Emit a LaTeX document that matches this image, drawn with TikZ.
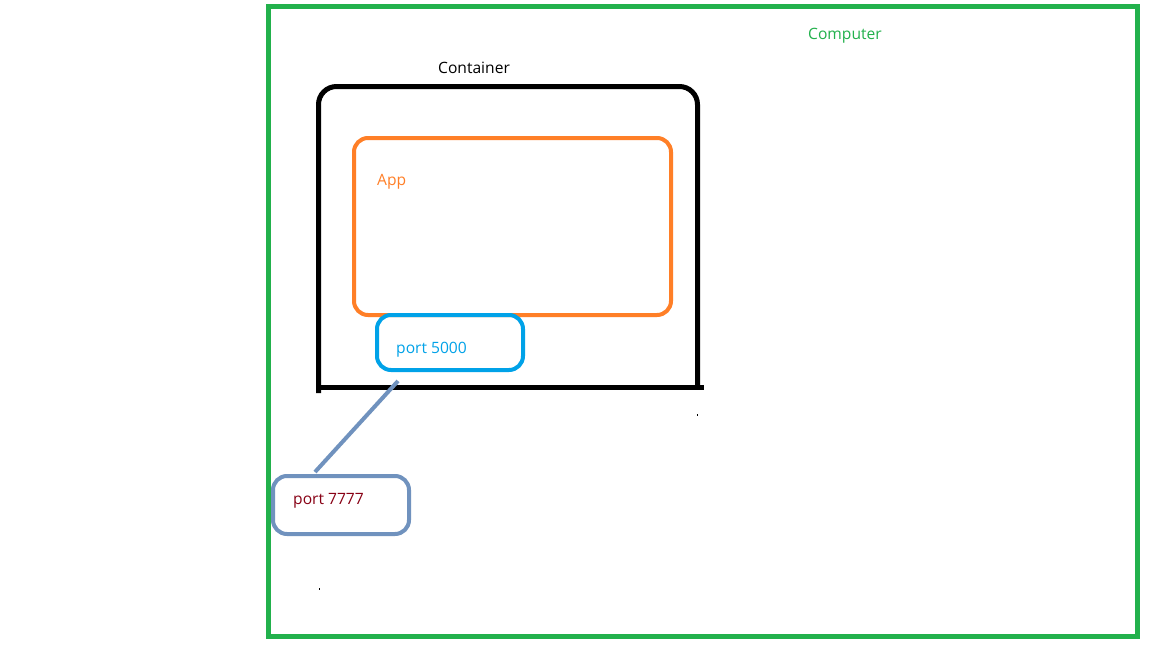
\documentclass[tikz,border=0pt]{standalone}
\usepackage{fontspec}
\setmainfont{Open Sans}
\definecolor{pgreen}{HTML}{22B14C}
\definecolor{porange}{HTML}{FF7F27}
\definecolor{pblue}{HTML}{00A2E8}
\definecolor{psteel}{HTML}{7092BE}
\definecolor{pred}{HTML}{880015}
\tikzset{
  lbl/.style={font=\fontsize{15.6}{18}\selectfont, inner sep=0pt, anchor=west},
  rbox/.style={rounded corners=14pt, line width=4pt}
}
\begin{document}
\begin{tikzpicture}[x=1pt,y=-1pt]
\useasboundingbox (0,0) rectangle (1152,648);
\fill[white] (0,0) rectangle (1152,648);
% computer
\draw[pgreen, line width=5pt] (268.5,6.5) rectangle (1137.5,636.5);
\node[lbl, text=pgreen] (comp) at (808,35.5) {Computer};
% container
\draw[black, line width=5pt, rounded corners=18pt] (318.5,393) -- (318.5,86.5) -- (697.5,86.5) -- (697.5,387);
\draw[black, line width=5pt] (316,387.5) -- (704,387.5);
\node[lbl] (cont) at (438,67.5) {Container};
% app
\draw[porange, rbox] (354,138) rectangle (671,315);
\node[lbl, text=porange] (app) at (377,181.5) {App};
% port 5000
\draw[pblue, rbox] (377,315) rectangle (523,370);
\node[lbl, text=pblue] (p5) at (396,349.5) {port 5000};
% port 7777
\draw[psteel, rbox] (273,476) rectangle (409,534);
\node[lbl, text=pred] (p7) at (293,500.5) {port 7777};
\coordinate (a) at (398,381);
\coordinate (b) at (315,472);
\draw[psteel, line width=4pt] (a) -- (b);
% specks
\fill[black] (696.5,414) rectangle (697.5,416);
\fill[black] (318.5,587.5) rectangle (319.5,590);
\end{tikzpicture}
\end{document}
